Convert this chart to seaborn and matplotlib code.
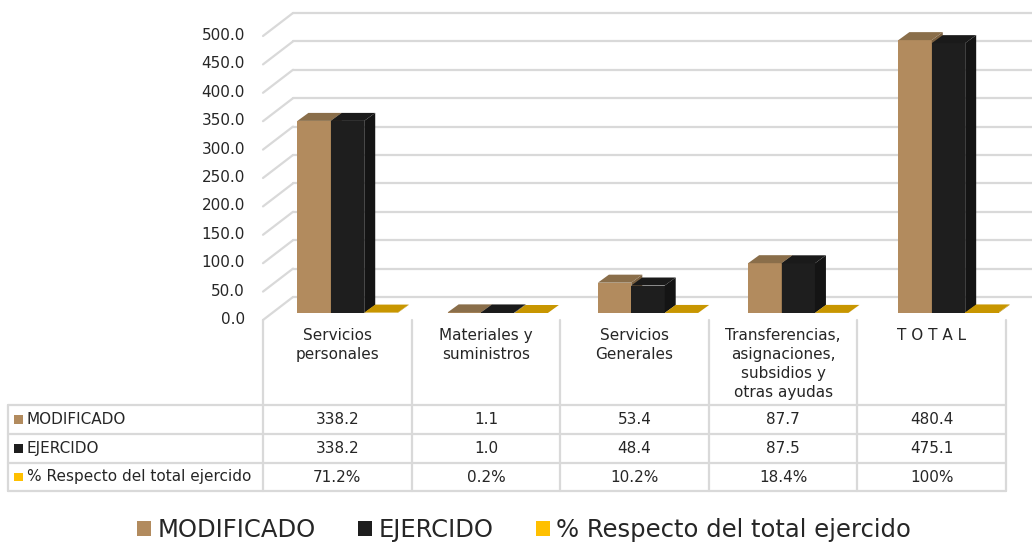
import numpy as np
import pandas as pd
import matplotlib
matplotlib.use("Agg")
import matplotlib.pyplot as plt
import seaborn as sns
from matplotlib.patches import Polygon, Patch
from matplotlib.lines import Line2D
from matplotlib.transforms import IdentityTransform, ScaledTranslation

# ---------------- data ----------------
categories = ["Servicios\npersonales", "Materiales y\nsuministros", "Servicios\nGenerales",
              "Transferencias,\nasignaciones,\nsubsidios y\notras ayudas", "T O T A L"]
series = ["MODIFICADO", "EJERCIDO", "% Respecto del total ejercido"]
modificado = [338.2, 1.1, 53.4, 87.7, 480.4]
ejercido = [338.2, 1.0, 48.4, 87.5, 475.1]
porcentaje = [71.2, 0.2, 10.2, 18.4, 100.0]
mod_labels = ["338.2", "1.1", "53.4", "87.7", "480.4"]
eje_labels = ["338.2", "1.0", "48.4", "87.5", "475.1"]
pct_labels = ["71.2%", "0.2%", "10.2%", "18.4%", "100%"]
yticks = [0, 50, 100, 150, 200, 250, 300, 350, 400, 450, 500]

front_colors = ["#B28B5E", "#1E1E1E", "#C89600"]
top_colors = ["#8A6E4A", "#1A1A1A", "#C89600"]
side_colors = ["#7A6040", "#141414", "#B08400"]
legend_colors = ["#B28B5E", "#1E1E1E", "#FFC000"]
grid_color = "#D9D9D9"
text_color = "#262626"

# ---------------- setup ----------------
sns.set_style("white")
plt.rcParams["font.family"] = ["DejaVu Sans"]

W, H, DPI = 1032, 544, 100
fig = plt.figure(figsize=(W / DPI, H / DPI), dpi=DPI)

# bar plane geometry (pixels)
L, R = 272.4, 1023.6
Y0, Y500 = 313, 29
ax = fig.add_axes([L / W, (H - Y0) / H, (R - L) / W, (Y0 - Y500) / H])

df = pd.DataFrame({
    "cat": categories * 3,
    "series": [series[0]] * 5 + [series[1]] * 5 + [series[2]] * 5,
    "value": modificado + ejercido + [p / 100 for p in porcentaje],
})
sns.barplot(data=df, x="cat", y="value", hue="series", order=categories, hue_order=series,
            palette=front_colors, width=0.667, saturation=1, legend=False, ax=ax,
            errorbar=None, linewidth=0)
ax.set_xlim(-0.5, 4.5)
ax.set_ylim(0, 500)
ax.set_xlabel("")
ax.set_ylabel("")
ax.set_xticks([])
for s in ax.spines.values():
    s.set_visible(False)
ax.set_facecolor("none")
fig.patch.set_facecolor("white")

# y tick labels placed at the front plane
ax.set_yticks(yticks)
ax.set_yticklabels([f"{v:.1f}" for v in yticks])
ax.tick_params(axis="y", length=0, pad=19.7, labelsize=11, labelcolor=text_color)
off = ScaledTranslation(0, -0.05, fig.dpi_scale_trans)
for lab in ax.get_yticklabels():
    lab.set_transform(lab.get_transform() + off)

# 3D offsets (display pixels, y up)
fdx, fdy = -9.4, -7      # front plane
bdx, bdy = 20.6, 16      # back wall
ddx, ddy = 11, 8         # bar depth

ident = IdentityTransform()
fig.canvas.draw()
axL = ax.transData.transform((-0.5, 0))[0]
for v in yticks:
    yd = ax.transData.transform((0, v))[1]
    ax.add_line(Line2D([axL + bdx, W + 5], [yd + bdy, yd + bdy], transform=ident,
                       color=grid_color, lw=1.6, zorder=0.5, clip_on=False))
    ax.add_line(Line2D([axL + fdx, axL + bdx], [yd + fdy, yd + bdy], transform=ident,
                       color=grid_color, lw=1.6, zorder=0.5, clip_on=False))

# 3D faces for bars
for k, cont in enumerate(ax.containers):
    for p in cont.patches:
        p.set_zorder(2 + k)
        x0, w, h = p.get_x(), p.get_width(), p.get_height()
        (px0, py0), (px1, py1) = ax.transData.transform([(x0, 0), (x0 + w, h)])
        top = [(px0, py1), (px1, py1), (px1 + ddx, py1 + ddy), (px0 + ddx, py1 + ddy)]
        side = [(px1, py0), (px1, py1), (px1 + ddx, py1 + ddy), (px1 + ddx, py0 + ddy)]
        ax.add_patch(Polygon(side, closed=True, transform=ident, facecolor=side_colors[k],
                             edgecolor="none", zorder=2 + k, clip_on=False))
        ax.add_patch(Polygon(top, closed=True, transform=ident, facecolor=top_colors[k],
                             edgecolor="none", zorder=2 + k + 0.01, clip_on=False))

# ---------------- data table ----------------
tax = fig.add_axes([0, 0, 1, 1], zorder=-1)
tax.set_xlim(0, W)
tax.set_ylim(H, 0)
tax.axis("off")

tab_left = 263
col_w = 148.6
lab_left = 8
head_top = 320
row_edges = [405, 434, 463, 491]
col_edges = [tab_left + i * col_w for i in range(len(categories) + 1)]
lc = dict(color=grid_color, lw=1.6)

for x in col_edges:
    tax.plot([x, x], [head_top, row_edges[-1]], **lc)
tax.plot([lab_left, lab_left], [row_edges[0], row_edges[-1]], **lc)
for y in row_edges:
    tax.plot([lab_left, col_edges[-1]], [y, y], **lc)

for i, c in enumerate(categories):
    cx = tab_left + (i + 0.5) * col_w
    tax.text(cx, 328, c, ha="center", va="top", fontsize=11, color=text_color, linespacing=1.34)

rows = [mod_labels, eje_labels, pct_labels]
for r, (name, vals) in enumerate(zip(series, rows)):
    cy = (row_edges[r] + row_edges[r + 1]) / 2
    tax.add_patch(plt.Rectangle((14, cy - 4.5), 8.5, 8.5, facecolor=legend_colors[r], edgecolor="none"))
    tax.text(27, cy, name, ha="left", va="center", fontsize=11, color=text_color)
    for i, v in enumerate(vals):
        cx = tab_left + (i + 0.5) * col_w
        tax.text(cx, cy, v, ha="center", va="center", fontsize=11, color=text_color)

# ---------------- legend ----------------
handles = [Patch(facecolor=c, edgecolor="none") for c in legend_colors]
fig.legend(handles, series, loc="center", bbox_to_anchor=(0.508, (H - 530) / H), ncol=3,
           frameon=False, fontsize=17.5, handlelength=0.58, handleheight=0.58,
           handletextpad=0.25, columnspacing=1.75, labelcolor=text_color)

fig.savefig("out.png", dpi=DPI, facecolor="white")
